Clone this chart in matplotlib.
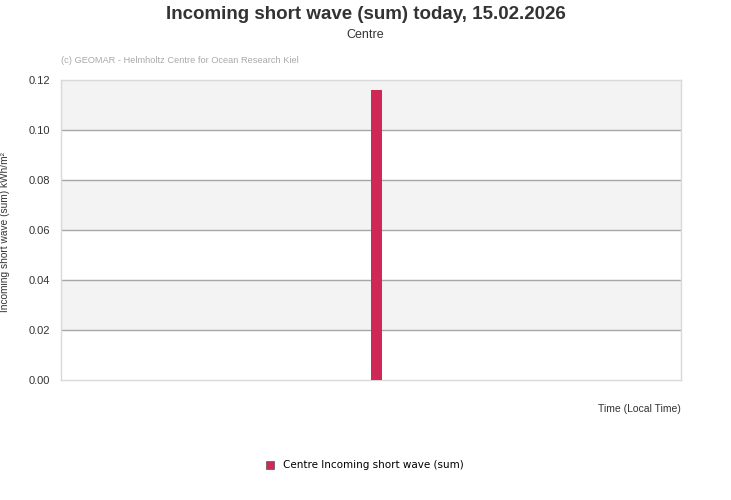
import matplotlib
matplotlib.use("Agg")
import matplotlib.pyplot as plt
from matplotlib.patches import Patch

# Data
series_name = "Centre Incoming short wave (sum)"
times_h = [12.21]          # hour of day (local time)
values = [0.116]           # kWh/m²
y_ticks = [0.00, 0.02, 0.04, 0.06, 0.08, 0.10, 0.12]
title = "Incoming short wave (sum) today, 15.02.2026"
subtitle = "Centre"
credit = "(c) GEOMAR - Helmholtz Centre for Ocean Research Kiel"
y_label = "Incoming short wave (sum) kWh/m²"
x_label = "Time (Local Time)"

bar_color = "#cf2856"
W, H = 731, 500
fig = plt.figure(figsize=(W / 100, H / 100), dpi=100)
fig.patch.set_facecolor("white")
ax = fig.add_axes([61 / W, 1 - 380 / H, 620 / W, 300 / H])

ax.set_xlim(0, 24)
ax.set_ylim(0, 0.12)

# alternating bands
for i in range(len(y_ticks) - 1):
    if i % 2 == 1:
        ax.axhspan(y_ticks[i], y_ticks[i + 1], color="#f3f3f3", zorder=0, lw=0)
for t in y_ticks[1:-1]:
    ax.axhline(t, color="#a6a6a6", lw=1, zorder=1)

ax.bar(times_h, values, width=0.426, color=bar_color, zorder=3)

for s in ax.spines.values():
    s.set_color("#d9d9d9")
    s.set_linewidth(1)
ax.set_xticks([])
ax.set_yticks(y_ticks)
ax.set_yticklabels([f"{v:.2f}" for v in y_ticks], fontsize=8, color="#333333",
                   family="Liberation Sans")
ax.tick_params(axis="y", length=0, pad=8)

fig.text(0.5, 1 - 14.5 / H, title, ha="center", va="center", fontsize=13.5,
         fontweight="bold", color="#333333", family="Liberation Sans")
fig.text(0.5, 1 - 35 / H, subtitle, ha="center", va="center", fontsize=9,
         color="#333333", family="Liberation Sans")
fig.text(61 / W, 1 - 60.5 / H, credit, ha="left", va="center", fontsize=6.7,
         color="#aaaaaa", family="Liberation Sans")
fig.text(5 / W, 1 - 232 / H, y_label, ha="center", va="center", rotation=90,
         fontsize=7.3, color="#333333", family="Liberation Sans")
fig.text(681 / W, 1 - 408.5 / H, x_label, ha="right", va="center", fontsize=7.5,
         color="#333333", family="Liberation Sans")

leg = fig.legend(handles=[Patch(facecolor=bar_color, edgecolor="#555555", lw=0.5,
                                label=series_name)],
                 loc="center", bbox_to_anchor=(365 / W, 1 - 465.5 / H), frameon=False,
                 handlelength=0.7, handleheight=0.7, handletextpad=0.9,
                 prop={"family": "DejaVu Sans", "size": 7.5})

fig.savefig("out.png", dpi=100)
